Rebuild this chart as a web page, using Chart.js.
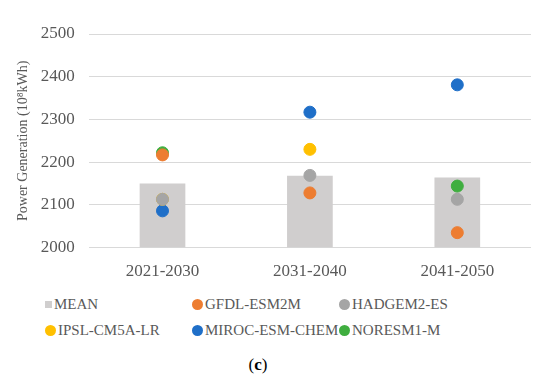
<!DOCTYPE html>
<html>
<head>
<meta charset="utf-8">
<script src="https://cdn.jsdelivr.net/npm/chart.js@4"></script>
<style>
  body { margin: 0; background: #fff; font-family: "Liberation Serif", "Times New Roman", serif; }
  #wrap { position: relative; width: 550px; height: 380px; }
  #chart-box { position: absolute; left: 0; top: 0; width: 550px; height: 288px; }
  #legend { position: absolute; left: 0; top: 296px; width: 550px; }
  .leg { position: absolute; font-size: 15px; color: #595959; white-space: nowrap; line-height: 16px; }
  .leg i { display: inline-block; vertical-align: middle; margin-right: 2px; position: relative; top: -1px; }
  #caption { position: absolute; left: 0; width: 516px; top: 355px; text-align: center; font-size: 17px; color: #000; }
</style>
</head>
<body>
<div id="wrap">
  <div id="chart-box"><canvas id="power-chart"></canvas></div>
  <div id="legend"></div>
  <div id="caption">(<b>c</b>)</div>
</div>
<script>
// Data
const periods = ['2021-2030', '2031-2040', '2041-2050'];
const meanValues = [2150, 2168, 2164];
const gfdlValues = [2217, 2128, 2035];
const hadgemValues = [2113, 2169, 2113];
const ipslValues = [2113, 2230, null];
const mirocValues = [2086, 2317, 2381];
const noresmValues = [2222, null, 2144];
const yTicks = [2000, 2100, 2200, 2300, 2400, 2500];

const seriesNames = ['MEAN', 'GFDL-ESM2M', 'HADGEM2-ES', 'IPSL-CM5A-LR', 'MIROC-ESM-CHEM', 'NORESM1-M'];
const seriesColors = ['#d0cece', '#ed7d31', '#a5a5a5', '#ffc000', '#1f6fc8', '#3fae3f'];

const serif = '"Liberation Serif", "Times New Roman", serif';

// Bodové řady (modely)
function pointSet(label, data, color) {
    return {
        type: 'line',
        label: label,
        data: data,
        showLine: false,
        pointRadius: 6,
        pointHoverRadius: 6,
        pointBackgroundColor: color,
        pointBorderColor: color,
        backgroundColor: color,
        borderColor: color
    };
}

const pointData = [gfdlValues, hadgemValues, ipslValues, mirocValues, noresmValues];
const datasets = [{
    type: 'bar',
    label: seriesNames[0],
    data: meanValues.map(v => [2000, v]),
    backgroundColor: seriesColors[0],
    barPercentage: 0.31,
    categoryPercentage: 1.0,
    order: 10
}];
pointData.forEach((d, i) => {
    datasets.push(pointSet(seriesNames[i + 1], d, seriesColors[i + 1]));
});

const ctx = document.getElementById('power-chart').getContext('2d');
new Chart(ctx, {
    data: { labels: periods, datasets: datasets },
    options: {
        responsive: true,
        maintainAspectRatio: false,
        animation: false,
        layout: { padding: { left: 15, right: 19, top: 34, bottom: 0 } },
        plugins: {
            legend: { display: false },
            tooltip: { enabled: false }
        },
        scales: {
            x: {
                grid: { display: false },
                border: { display: false },
                ticks: { color: '#595959', font: { family: serif, size: 17 }, padding: 6 }
            },
            y: {
                min: 2000,
                max: 2500,
                afterBuildTicks: axis => { axis.ticks = yTicks.map(v => ({ value: v })); },
                grid: { color: '#d9d9d9', lineWidth: 1, drawTicks: false },
                border: { display: false },
                ticks: {
                    color: '#595959',
                    font: { family: serif, size: 17 },
                    padding: 14,
                    callback: v => String(v)
                },
                title: {
                    display: true,
                    text: 'Power Generation (10⁸kWh)',
                    color: '#595959',
                    font: { family: serif, size: 14 },
                    padding: { top: 0, bottom: -5 }
                }
            }
        }
    }
});

// HTML legenda (rozložení jako v Excelu, 3 sloupce)
const legend = document.getElementById('legend');
const colX = [45, 192, 339];
seriesNames.forEach((name, i) => {
    const el = document.createElement('div');
    el.className = 'leg';
    el.style.left = colX[i % 3] + 'px';
    el.style.top = (Math.floor(i / 3) * 26) + 'px';
    const mark = document.createElement('i');
    if (i === 0) {
        mark.style.width = '7px';
        mark.style.height = '7px';
    } else {
        mark.style.width = '11px';
        mark.style.height = '11px';
        mark.style.borderRadius = '50%';
    }
    mark.style.background = seriesColors[i];
    el.appendChild(mark);
    el.appendChild(document.createTextNode(name));
    legend.appendChild(el);
});
</script>
</body>
</html>
